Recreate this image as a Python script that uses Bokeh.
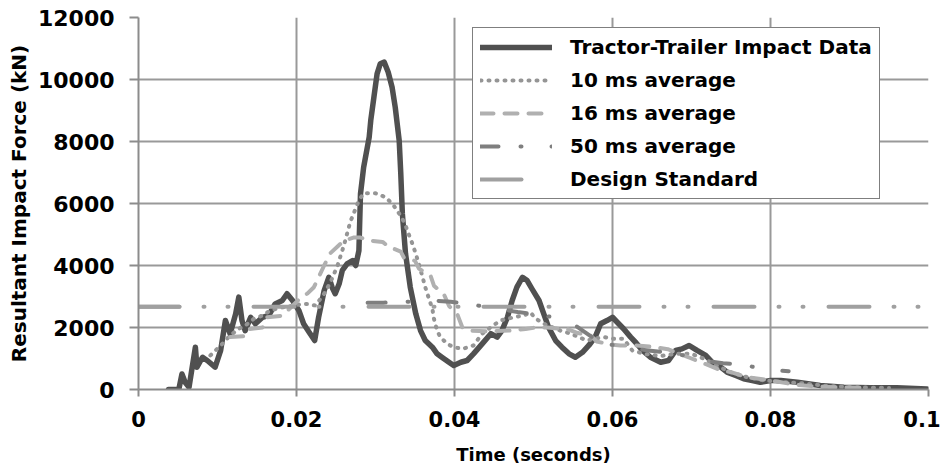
from bokeh.plotting import figure
from bokeh.models import (FixedTicker, CustomJSTickFormatter, Legend, LegendItem,
                          Range1d)
from bokeh.embed import file_html
from bokeh.resources import INLINE

# ---------------- data ----------------
t_data = [0.0038, 0.0051, 0.0055, 0.0059, 0.0064, 0.0072, 0.0074, 0.0081, 0.0087, 0.0097,
          0.0104, 0.0110, 0.0116, 0.0123, 0.0127, 0.0131, 0.0135, 0.0142, 0.0148, 0.0157,
          0.0165, 0.0173, 0.0182, 0.0188, 0.0195, 0.0203, 0.0209, 0.0216, 0.0223, 0.0228,
          0.0235, 0.0241, 0.0245, 0.0249, 0.0254, 0.0258, 0.0264, 0.0271, 0.0275, 0.0279,
          0.0281, 0.0285, 0.0292, 0.0294, 0.0298, 0.0302, 0.0306, 0.0311, 0.0316, 0.0321,
          0.0325, 0.0330, 0.0332, 0.0334, 0.0338, 0.0344, 0.0351, 0.0357, 0.0363, 0.0372,
          0.0378, 0.0384, 0.0393, 0.0399, 0.0408, 0.0416, 0.0424, 0.0435, 0.0446, 0.0454,
          0.0460, 0.0467, 0.0473, 0.0479, 0.0486, 0.0492, 0.0498, 0.0507, 0.0513, 0.0519,
          0.0528, 0.0536, 0.0545, 0.0553, 0.0562, 0.0570, 0.0578, 0.0585, 0.0593, 0.0600,
          0.0606, 0.0614, 0.0623, 0.0630, 0.0638, 0.0648, 0.0661, 0.0671, 0.0680, 0.0688,
          0.0697, 0.0707, 0.0718, 0.0726, 0.0737, 0.0745, 0.0756, 0.0766, 0.0777, 0.0787,
          0.0800, 0.0813, 0.0834, 0.0863, 0.0893, 0.0927, 0.0960, 0.0998]
v_data = [0, 0, 500, 235, 75, 1365, 720, 1040, 935, 720,
          1260, 2225, 1800, 2440, 2980, 2225, 1900, 2330, 2120, 2330,
          2390, 2760, 2870, 3090, 2870, 2550, 2120, 1850, 1580, 2330,
          3190, 3620, 3300, 3090, 3410, 3840, 4050, 4160, 4000, 4480,
          6310, 7170, 8140, 8680, 9430, 10180, 10510, 10560, 10240, 9750,
          9100, 8030, 6960, 5670, 4380, 3300, 2440, 1900, 1580, 1365,
          1150, 1040, 880, 775, 880, 935, 1150, 1470, 1800, 1690,
          1900, 2330, 2870, 3300, 3620, 3515, 3250, 2870, 2440, 2010,
          1580, 1365, 1150, 1040, 1200, 1420, 1690, 2120, 2225, 2330,
          2170, 1960, 1690, 1500, 1260, 1040, 880, 935, 1260, 1310,
          1420, 1260, 1100, 880, 720, 560, 450, 345, 290, 235,
          290, 290, 235, 130, 75, 55, 55, 20]

t_10ms = [0.0091, 0.0106, 0.0116, 0.0127, 0.0135, 0.0146, 0.0157, 0.0167, 0.0182, 0.0195,
          0.0205, 0.0214, 0.0224, 0.0235, 0.0243, 0.0252, 0.0260, 0.0268, 0.0273, 0.0279,
          0.0285, 0.0300, 0.0313, 0.0323, 0.0330, 0.0337, 0.0341, 0.0346, 0.0351, 0.0359,
          0.0363, 0.0367, 0.0372, 0.0374, 0.0378, 0.0382, 0.0391, 0.0399, 0.0410, 0.0424,
          0.0435, 0.0446, 0.0458, 0.0475, 0.0488, 0.0496, 0.0503, 0.0515, 0.0534, 0.0547,
          0.0557, 0.0568, 0.0580, 0.0589, 0.0602, 0.0614, 0.0625, 0.0640, 0.0660, 0.0680,
          0.0700, 0.0715, 0.0730, 0.0750, 0.0770, 0.0790, 0.0810, 0.0840, 0.0870, 0.0900,
          0.0930, 0.0950]
v_10ms = [1100, 1470, 1740, 1960, 2060, 2280, 2390, 2550, 2650, 2700,
          2750, 2760, 2710, 3090, 3460, 4000, 4650, 5400, 5720, 6100,
          6330, 6330, 6200, 5935, 5670, 5370, 5075, 4750, 4380, 3680,
          3300, 2980, 2600, 2280, 1900, 1690, 1470, 1365, 1310, 1420,
          1800, 2010, 2225, 2330, 2390, 2490, 2280, 2100, 1900, 1800,
          1690, 1580, 1650, 1690, 1635, 1635, 1260, 1150, 1080, 1150,
          1150, 1000, 800, 550, 400, 300, 250, 200, 120, 80,
          60, 50]

t_16ms = [0.0116, 0.0135, 0.0140, 0.0157, 0.0163, 0.0182, 0.0205, 0.0214, 0.0222, 0.0235,
          0.0243, 0.0260, 0.0272, 0.0281, 0.0294, 0.0309, 0.0317, 0.0332, 0.0336, 0.0350,
          0.0355, 0.0370, 0.0374, 0.0387, 0.0393, 0.0404, 0.0410, 0.0420, 0.0440, 0.0470,
          0.0490, 0.0503, 0.0518, 0.0530, 0.0543, 0.0556, 0.0572, 0.0580, 0.0597, 0.0610,
          0.0630, 0.0650, 0.0670, 0.0685, 0.0700, 0.0715, 0.0737, 0.0750, 0.0770, 0.0790,
          0.0810, 0.0830, 0.0860, 0.0890, 0.0920]
v_16ms = [1690, 1720, 1950, 2000, 2330, 2380, 2950, 3100, 3300, 4000,
          4400, 4800, 4900, 4900, 4800, 4760, 4600, 4450, 4250, 4150,
          3900, 3650, 3350, 3050, 2700, 2400, 2000, 1900, 1880, 1900,
          1950, 2000, 2000, 1970, 1950, 1820, 1750, 1550, 1450, 1420,
          1420, 1380, 1300, 1150, 1000, 850, 620, 560, 400, 330,
          250, 160, 90, 70, 50]

t_50ms = [0.0290, 0.0310, 0.0340, 0.0370, 0.0395, 0.0420, 0.0450, 0.0480, 0.0505, 0.0525,
          0.0543, 0.0565, 0.0585, 0.0605, 0.0625, 0.0645, 0.0665, 0.0690, 0.0715, 0.0740,
          0.0766, 0.0792, 0.0823]
v_50ms = [2800, 2800, 2830, 2870, 2830, 2750, 2620, 2500, 2420, 2330,
          2250, 1850, 1500, 1420, 1330, 1260, 1200, 1100, 930, 850,
          800, 645, 590]

t_std = [0.0, 0.1]
v_std = [2670, 2670]

x_ticks = [0, 0.02, 0.04, 0.06, 0.08, 0.1]
y_ticks = [0, 2000, 4000, 6000, 8000, 10000, 12000]

labels = ["Tractor-Trailer Impact Data", "10 ms average", "16 ms average",
          "50 ms average", "Design Standard"]

# ---------------- figure ----------------
FONT = "DejaVu Sans"
p = figure(width=940, height=474, output_backend="svg", toolbar_location=None,
           x_range=Range1d(0, 0.1), y_range=Range1d(0, 12000),
           min_border_left=138, min_border_right=12, min_border_top=17,
           min_border_bottom=85)
p.outline_line_color = None
p.background_fill_color = "white"
p.border_fill_color = "white"

STD_COLOR = "#a0a0a0"
r0 = p.line(t_data, v_data, line_color="#505050", line_width=5.5,
            line_join="round", line_cap="round")
r1 = p.line(t_10ms, v_10ms, line_color="#959595", line_width=4,
            line_dash="1 7", line_cap="round", line_join="round")
r2 = p.line(t_16ms, v_16ms, line_color="#b0b0b0", line_width=4,
            line_dash="13 11", line_cap="round", line_join="round")
r3 = p.line(t_50ms, v_50ms, line_color="#7f7f7f", line_width=4,
            line_dash="18 22 1 30", line_cap="round", line_join="round")
r4 = p.line(t_std, v_std, line_color=STD_COLOR, line_width=4,
            line_dash="41 24 1 23 1 25", line_cap="round")
# legend key for the design standard: only its first long dash (which coincides
# with the first dash of the line above), as the reference's legend shows it
r4_key = p.line(t_std, v_std, line_color=STD_COLOR, line_width=4,
                line_dash="41 2000", line_cap="round")

# axes
for ax in (p.xaxis[0], p.yaxis[0]):
    ax.axis_line_color = "#8c8c8c"
    ax.axis_line_width = 2
    ax.major_tick_line_color = "#8c8c8c"
    ax.major_tick_line_width = 2
    ax.major_tick_in = 0
    ax.minor_tick_line_color = None
    ax.major_label_text_font = FONT
    ax.major_label_text_font_style = "bold"
    ax.major_label_text_color = "black"
    ax.axis_label_text_font = FONT
    ax.axis_label_text_font_style = "bold"
    ax.axis_label_text_color = "black"

p.xaxis.ticker = FixedTicker(ticks=x_ticks)
p.yaxis.ticker = FixedTicker(ticks=y_ticks)
p.xaxis.formatter = CustomJSTickFormatter(code="return String(Math.round(tick*100)/100);")
p.xaxis.major_label_text_font_size = "21px"
p.yaxis.major_label_text_font_size = "22px"
p.xaxis.major_tick_out = 7
p.yaxis.major_tick_out = 9
p.xaxis.major_label_standoff = 14
p.yaxis.major_label_standoff = 15
p.xaxis.axis_label = "Time (seconds)"
p.yaxis.axis_label = "Resultant Impact Force (kN)"
p.xaxis.axis_label_text_font_size = "18px"
p.yaxis.axis_label_text_font_size = "20px"
p.xaxis.axis_label_standoff = 14
p.yaxis.axis_label_standoff = 4

p.xgrid.ticker = FixedTicker(ticks=x_ticks)
p.ygrid.ticker = FixedTicker(ticks=y_ticks)
for g in (p.xgrid[0], p.ygrid[0]):
    g.grid_line_color = "#999999"
    g.grid_line_width = 2

legend = Legend(items=[LegendItem(label=l, renderers=[r])
                       for l, r in zip(labels, [r0, r1, r2, r3, r4_key])],
                location=(334, 190))
legend.label_text_font = FONT
legend.label_text_font_style = "bold"
legend.label_text_font_size = "20px"
legend.label_text_color = "black"
legend.glyph_width = 72
legend.glyph_height = 20
legend.label_standoff = 18
legend.padding = 7
legend.spacing = 9
legend.margin = 0
legend.border_line_color = "black"
legend.border_line_width = 1.5
legend.background_fill_color = "white"
legend.background_fill_alpha = 1.0
p.add_layout(legend, "center")

open("out.html", "w").write(file_html(p, INLINE))
